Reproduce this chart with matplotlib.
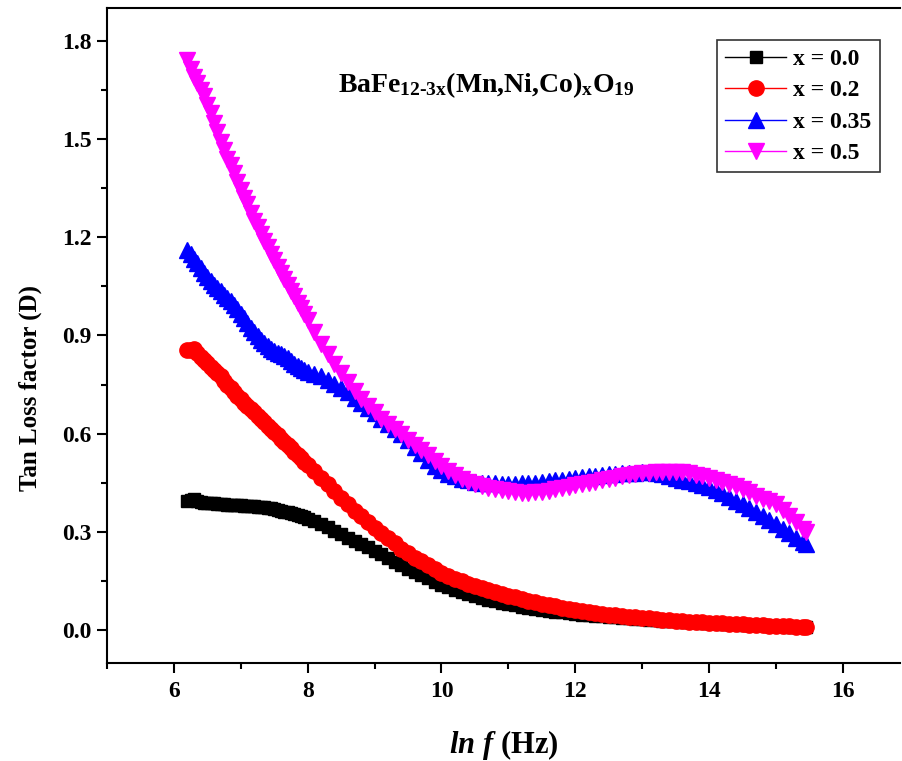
import matplotlib
matplotlib.use('Agg')
import matplotlib.pyplot as plt
from matplotlib.ticker import MultipleLocator

plt.rcParams['font.family'] = 'Liberation Serif'
plt.rcParams['font.weight'] = 'bold'
plt.rcParams['mathtext.fontset'] = 'custom'
plt.rcParams['mathtext.rm'] = 'Liberation Serif:bold'
plt.rcParams['mathtext.it'] = 'Liberation Serif:italic:bold'
plt.rcParams['mathtext.bf'] = 'Liberation Serif:bold'

# ln f values (Hz)
lnf = [6.20, 6.25, 6.30, 6.35, 6.40, 6.45, 6.50, 6.55, 6.60, 6.65,
       6.70, 6.75, 6.80, 6.85, 6.90, 6.95, 7.00, 7.05, 7.10, 7.15,
       7.20, 7.25, 7.30, 7.35, 7.40, 7.45, 7.50, 7.55, 7.60, 7.65,
       7.70, 7.75, 7.80, 7.85, 7.90, 7.95, 8.00,
       8.1, 8.2, 8.3, 8.4, 8.5, 8.6, 8.7, 8.8, 8.9,
       9.0, 9.1, 9.2, 9.3, 9.4, 9.5, 9.6, 9.7, 9.8, 9.9,
       10.0, 10.1, 10.2, 10.3, 10.4, 10.5, 10.6, 10.7, 10.8, 10.9,
       11.0, 11.1, 11.2, 11.3, 11.4, 11.5, 11.6, 11.7, 11.8, 11.9,
       12.0, 12.1, 12.2, 12.3, 12.4, 12.5, 12.6, 12.7, 12.8, 12.9,
       13.0, 13.1, 13.2, 13.3, 13.4, 13.5, 13.6, 13.7, 13.8, 13.9,
       14.0, 14.1, 14.2, 14.3, 14.4, 14.5, 14.6, 14.7, 14.8, 14.9,
       15.0, 15.1, 15.2, 15.3, 15.4, 15.45]

# x = 0.0
d_00 = [0.395, 0.398, 0.400, 0.395, 0.392, 0.390, 0.389, 0.388, 0.387, 0.386,
        0.385, 0.384, 0.383, 0.383, 0.382, 0.382, 0.381, 0.380, 0.380, 0.379,
        0.378, 0.377, 0.376, 0.375, 0.373, 0.372, 0.370, 0.368, 0.365, 0.362,
        0.360, 0.357, 0.354, 0.351, 0.348, 0.345, 0.341,
        0.333, 0.325, 0.315, 0.304, 0.293, 0.283, 0.272, 0.263, 0.253,
        0.243, 0.232, 0.220, 0.209, 0.198, 0.187, 0.177, 0.168, 0.158, 0.148,
        0.139, 0.131, 0.124, 0.117, 0.110, 0.104, 0.099, 0.093, 0.088, 0.084,
        0.080, 0.076, 0.072, 0.069, 0.066, 0.063, 0.060, 0.057, 0.055, 0.052,
        0.050, 0.048, 0.046, 0.044, 0.042, 0.040, 0.039, 0.037, 0.036, 0.034,
        0.033, 0.031, 0.030, 0.029, 0.028, 0.027, 0.026, 0.025, 0.024, 0.023,
        0.022, 0.021, 0.020, 0.019, 0.018, 0.017, 0.016, 0.015, 0.015, 0.014,
        0.013, 0.012, 0.011, 0.010, 0.010, 0.009]

# x = 0.2
d_02 = [0.855, 0.855, 0.858, 0.845, 0.835, 0.825, 0.815, 0.805, 0.795, 0.785,
        0.775, 0.762, 0.750, 0.739, 0.727, 0.715, 0.705, 0.695, 0.685, 0.675,
        0.665, 0.655, 0.645, 0.635, 0.625, 0.615, 0.605, 0.595, 0.585, 0.575,
        0.565, 0.555, 0.545, 0.535, 0.525, 0.515, 0.505,
        0.485, 0.465, 0.445, 0.425, 0.405, 0.385, 0.365, 0.349, 0.330,
        0.313, 0.297, 0.281, 0.265, 0.249, 0.236, 0.222, 0.210, 0.198, 0.186,
        0.175, 0.166, 0.157, 0.149, 0.141, 0.134, 0.128, 0.122, 0.116, 0.110,
        0.105, 0.100, 0.095, 0.090, 0.085, 0.081, 0.077, 0.073, 0.069, 0.066,
        0.062, 0.059, 0.056, 0.053, 0.050, 0.048, 0.046, 0.043, 0.041, 0.039,
        0.037, 0.036, 0.034, 0.032, 0.031, 0.029, 0.028, 0.026, 0.025, 0.024,
        0.023, 0.022, 0.021, 0.020, 0.019, 0.018, 0.017, 0.016, 0.015, 0.014,
        0.014, 0.013, 0.012, 0.011, 0.010, 0.010]

# x = 0.35
d_035 = [1.160, 1.150, 1.135, 1.120, 1.105, 1.090, 1.078, 1.066, 1.055, 1.045,
         1.035, 1.025, 1.015, 1.005, 0.992, 0.980, 0.966, 0.952, 0.938, 0.924,
         0.910, 0.898, 0.886, 0.876, 0.868, 0.860, 0.854, 0.848, 0.842, 0.836,
         0.830, 0.822, 0.814, 0.807, 0.801, 0.795, 0.790,
         0.783, 0.775, 0.763, 0.751, 0.739, 0.726, 0.710, 0.694, 0.678,
         0.662, 0.646, 0.630, 0.614, 0.598, 0.580, 0.560, 0.540, 0.520, 0.503,
         0.490, 0.478, 0.470, 0.463, 0.458, 0.454, 0.451, 0.450, 0.449, 0.448,
         0.448, 0.448, 0.449, 0.450, 0.451, 0.453, 0.455, 0.458, 0.460, 0.463,
         0.465, 0.467, 0.470, 0.472, 0.474, 0.476, 0.477, 0.479, 0.480, 0.481,
         0.482, 0.482, 0.480, 0.476, 0.471, 0.466, 0.460, 0.455, 0.449, 0.443,
         0.437, 0.428, 0.418, 0.407, 0.396, 0.385, 0.374, 0.362, 0.350, 0.337,
         0.324, 0.310, 0.297, 0.283, 0.268, 0.262]

# x = 0.5
d_05 = [1.740, 1.715, 1.690, 1.670, 1.650, 1.630, 1.605, 1.580, 1.550, 1.520,
        1.490, 1.465, 1.440, 1.420, 1.395, 1.370, 1.345, 1.320, 1.300, 1.275,
        1.250, 1.230, 1.210, 1.190, 1.170, 1.150, 1.130, 1.110, 1.090, 1.073,
        1.055, 1.037, 1.020, 1.000, 0.983, 0.965, 0.947,
        0.910, 0.875, 0.843, 0.814, 0.786, 0.758, 0.730, 0.706, 0.685,
        0.665, 0.646, 0.630, 0.614, 0.598, 0.582, 0.566, 0.550, 0.534, 0.518,
        0.502, 0.487, 0.475, 0.463, 0.453, 0.445, 0.439, 0.434, 0.430, 0.427,
        0.424, 0.422, 0.420, 0.420, 0.421, 0.423, 0.426, 0.430, 0.434, 0.438,
        0.442, 0.446, 0.450, 0.454, 0.458, 0.462, 0.466, 0.470, 0.473, 0.477,
        0.479, 0.481, 0.483, 0.484, 0.484, 0.484, 0.482, 0.479, 0.475, 0.470,
        0.466, 0.460, 0.453, 0.446, 0.439, 0.431, 0.421, 0.410, 0.402, 0.394,
        0.384, 0.367, 0.350, 0.330, 0.310, 0.300]

labels = ['x = 0.0', 'x = 0.2', 'x = 0.35', 'x = 0.5']

fig = plt.figure(figsize=(9.02, 7.61), dpi=100)
ax = fig.add_axes([0.1186, 0.1288, 0.8789, 0.8607])

ax.plot(lnf, d_00, marker='s', color='black', lw=1, ms=9, label=labels[0])
ax.plot(lnf, d_02, marker='o', color='red', lw=1, ms=11, label=labels[1])
ax.plot(lnf, d_035, marker='^', color='blue', lw=1, ms=11, label=labels[2])
ax.plot(lnf, d_05, marker='v', color='magenta', lw=1, ms=11, label=labels[3])

ax.set_xlim(5, 16.85)
ax.set_ylim(-0.1, 1.9)
ax.xaxis.set_major_locator(MultipleLocator(2))
ax.xaxis.set_minor_locator(MultipleLocator(1))
ax.yaxis.set_major_locator(MultipleLocator(0.3))
ax.yaxis.set_minor_locator(MultipleLocator(0.15))
ax.yaxis.set_major_formatter(plt.FormatStrFormatter('%.1f'))

ax.spines['right'].set_visible(False)
for s in ['left', 'bottom', 'top']:
    ax.spines[s].set_linewidth(1.5)
ax.tick_params(which='major', direction='out', length=7, width=1.5, labelsize=17)
ax.tick_params(axis='y', which='major', pad=4)
ax.tick_params(axis='x', which='major', pad=6)
ax.tick_params(which='minor', direction='out', length=4, width=1.5)
ax.tick_params(top=False, right=False, which='both')

ax.set_xlabel(r'$\mathit{ln\ f}$ (Hz)', fontsize=22, fontweight='bold')
ax.xaxis.set_label_coords(0.5, -0.1)
ax.set_ylabel('Tan Loss factor (D)', fontsize=18, fontweight='bold')
ax.yaxis.set_label_coords(-0.082, 0.42)

ax.text(0.479, 0.882, r'BaFe$_{\mathrm{12\text{-}3x}}$(Mn,Ni,Co)$_{\mathrm{x}}$O$_{\mathrm{19}}$',
        transform=ax.transAxes, ha='center', va='center', fontsize=20, fontweight='bold')

leg = ax.legend(loc='upper right', bbox_to_anchor=(0.975, 0.951), fontsize=17,
                frameon=True, fancybox=False, edgecolor='black', handlelength=2.6,
                borderpad=0.35, labelspacing=0.42, handletextpad=0.3, borderaxespad=0)
leg.get_frame().set_linewidth(1.2)

fig.savefig('out.png', dpi=100)
